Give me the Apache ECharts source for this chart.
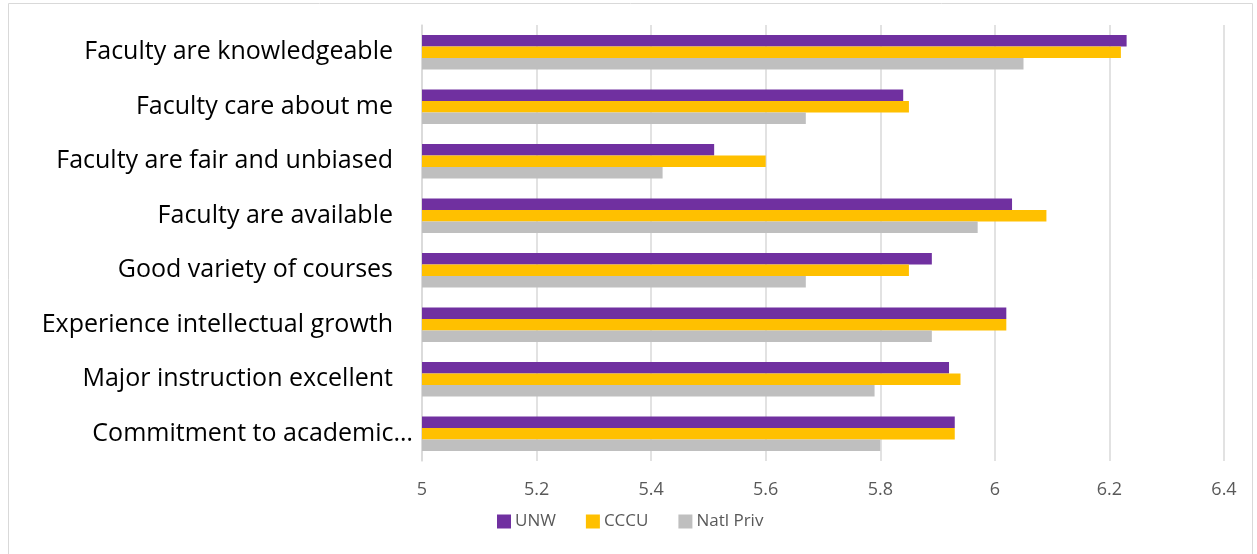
<!DOCTYPE html>
<html>
<head>
<meta charset="utf-8">
<script src="https://cdn.jsdelivr.net/npm/echarts@6/dist/echarts.min.js"></script>
<style>
html,body{margin:0;padding:0;background:#fff;}
#c{width:1257px;height:554px;}
</style>
</head>
<body>
<div id="c"></div>
<script>
const categories = [
  "Faculty are knowledgeable",
  "Faculty care about me",
  "Faculty are fair and unbiased",
  "Faculty are available",
  "Good variety of courses",
  "Experience intellectual growth",
  "Major instruction excellent",
  "Commitment to academic…"
];
const unw      = [6.23, 5.84, 5.51, 6.03, 5.89, 6.02, 5.92, 5.93];
const cccu     = [6.22, 5.85, 5.60, 6.09, 5.85, 6.02, 5.94, 5.93];
const natlPriv = [6.05, 5.67, 5.42, 5.97, 5.67, 5.89, 5.79, 5.80];
const xTicks = [5, 5.2, 5.4, 5.6, 5.8, 6, 6.2, 6.4];

const chart = echarts.init(document.getElementById('c'));
chart.setOption({
  animation: false,
  graphic: [{
    type: 'rect',
    shape: {x: 8.5, y: 3.5, width: 1244, height: 560},
    style: {fill: 'none', stroke: '#d9d9d9', lineWidth: 1}
  }],
  legend: {
    top: 508,
    left: 492,
    itemWidth: 14,
    itemHeight: 14,
    itemGap: 30,
    icon: 'rect',
    textStyle: {color: '#595959', fontSize: 17, fontFamily: 'Open Sans', padding: [0, 0, 0, -1]},
    data: ['UNW', 'CCCU', 'Natl Priv']
  },
  grid: {left: 422, right: 33, top: 25, bottom: 93},
  xAxis: {
    type: 'value',
    min: xTicks[0],
    max: xTicks[xTicks.length - 1],
    interval: 0.2,
    axisLine: {show: false},
    axisTick: {show: false},
    splitLine: {lineStyle: {color: '#d9d9d9', width: 1.5}},
    axisLabel: {color: '#595959', fontSize: 18, fontFamily: 'Open Sans', margin: 20,
      formatter: v => String(Math.round(v * 10) / 10)}
  },
  yAxis: {
    type: 'category',
    inverse: true,
    data: categories,
    axisLine: {show: true, lineStyle: {color: '#d9d9d9', width: 1.5}},
    axisTick: {show: false},
    axisLabel: {
      color: '#000', fontSize: 25, fontFamily: 'Open Sans', margin: 9,
      formatter: v => v.endsWith('…') ? v : '{n|' + v + '}',
      rich: {n: {fontSize: 25, fontFamily: 'Open Sans', color: '#000', padding: [0, 20, 0, 0]}}
    }
  },
  series: [
    {name: 'UNW', type: 'bar', data: unw, itemStyle: {color: '#7030A0'}, barGap: '0%', barCategoryGap: '37%'},
    {name: 'CCCU', type: 'bar', data: cccu, itemStyle: {color: '#FFC000'}, barGap: '0%', barCategoryGap: '37%'},
    {name: 'Natl Priv', type: 'bar', data: natlPriv, itemStyle: {color: '#BFBFBF'}, barGap: '0%', barCategoryGap: '37%'}
  ]
});
</script>
</body>
</html>
